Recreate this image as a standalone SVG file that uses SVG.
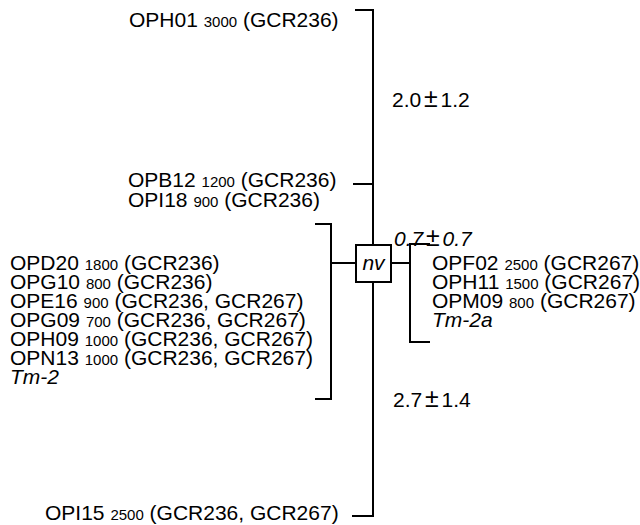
<svg xmlns="http://www.w3.org/2000/svg" width="640" height="525" viewBox="0 0 640 525">
<style>
text{font-family:"Liberation Sans",Arial,sans-serif;font-size:21px;fill:#000}
.s{font-size:15px}
.i{font-style:italic}
.pm{font-size:25px;font-style:normal}
.d{word-spacing:-3px}
.ln{stroke:#000;stroke-width:2;fill:none}
</style>
<rect width="640" height="525" fill="#fff"/>
<g id="connectors">
<path class="ln" d="M355,10 H373 V245"/>
<path class="ln" d="M373,282 V516 H352"/>
<path class="ln" d="M353,184 H373"/>
<path class="ln" d="M315,224 H331 V399 H315"/>
<path class="ln" d="M331,263 H356"/>
<path class="ln" d="M391,263 H410"/>
<path class="ln" d="M430,244 H410 V342 H430"/>
</g>
<g id="nv">
<rect x="356" y="245" width="35" height="37" fill="#fff" stroke="#000" stroke-width="2"/>
<text x="373.5" y="270" text-anchor="middle" class="i">nv</text>
</g>
<g id="opH01"><text x="129" y="27">OPH01 <tspan class="s">3000</tspan> (GCR236)</text></g>
<g id="d1"><text x="392" y="107" class="d">2.0 <tspan class="pm">±</tspan> 1.2</text></g>
<g id="opB12"><text x="128" y="187">OPB12 <tspan class="s">1200</tspan> (GCR236)</text>
<text x="128" y="207">OPI18 <tspan class="s">900</tspan> (GCR236)</text></g>
<g id="d2"><text x="394" y="246" class="i d">0.7 <tspan class="pm">±</tspan> 0.7</text></g>
<g id="tm2">
<text x="10" y="270">OPD20 <tspan class="s">1800</tspan> (GCR236)</text>
<text x="10" y="289">OPG10 <tspan class="s">800</tspan> (GCR236)</text>
<text x="10" y="308">OPE16 <tspan class="s">900</tspan> (GCR236, GCR267)</text>
<text x="10" y="327">OPG09 <tspan class="s">700</tspan> (GCR236, GCR267)</text>
<text x="10" y="346">OPH09 <tspan class="s">1000</tspan> (GCR236, GCR267)</text>
<text x="10" y="365">OPN13 <tspan class="s">1000</tspan> (GCR236, GCR267)</text>
<text x="10" y="384" class="i">Tm-2</text>
</g>
<g id="tm2a">
<text x="432" y="270">OPF02 <tspan class="s">2500</tspan> (GCR267)</text>
<text x="432" y="289">OPH11 <tspan class="s">1500</tspan> (GCR267)</text>
<text x="432" y="308">OPM09 <tspan class="s">800</tspan> (GCR267)</text>
<text x="432" y="327" class="i">Tm-2a</text>
</g>
<g id="d3"><text x="393" y="407" class="d">2.7 <tspan class="pm">±</tspan> 1.4</text></g>
<g id="opI15"><text x="45" y="520">OPI15 <tspan class="s">2500</tspan> (GCR236, GCR267)</text></g>
</svg>
